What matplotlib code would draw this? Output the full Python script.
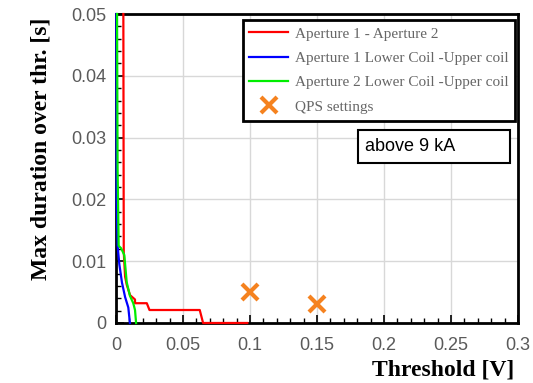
import numpy as np
import matplotlib.pyplot as plt
from matplotlib.patches import Rectangle
from matplotlib.ticker import MultipleLocator, FuncFormatter

# red: Aperture 1 - Aperture 2
red_x = [0.0055, 0.0058, 0.0068, 0.008, 0.0105, 0.0142, 0.0142, 0.023, 0.025, 0.0625, 0.065, 0.098]
red_y = [0.050, 0.0115, 0.0075, 0.0062, 0.0045, 0.0038, 0.0032, 0.0032, 0.0021, 0.0021, 0.0, 0.0]
# blue: Aperture 1 Lower Coil - Upper coil
blue_x = [0.0003, 0.0005, 0.0012, 0.0025, 0.0045, 0.0068, 0.0092, 0.0104]
blue_y = [0.050, 0.020, 0.0125, 0.0095, 0.0065, 0.0042, 0.0025, 0.0]
# green: Aperture 2 Lower Coil - Upper coil
green_x = [0.0008, 0.0012, 0.002, 0.0038, 0.0062, 0.008, 0.0104, 0.0129, 0.0142, 0.015]
green_y = [0.050, 0.025, 0.0125, 0.0121, 0.0110, 0.0066, 0.0044, 0.0032, 0.0021, 0.0]
# QPS settings
qps_x = [0.10, 0.15]
qps_y = [0.005, 0.003]

fig = plt.figure(figsize=(5.33, 3.83), dpi=100)
ax = fig.add_axes([0.2176, 0.1567, 0.9719 - 0.2176, 0.9634 - 0.1567])

ax.plot(red_x, red_y, color='#ff0000', lw=1.6, label='Aperture 1 - Aperture 2', zorder=6, clip_on=False)
ax.plot(blue_x, blue_y, color='#0000ff', lw=1.6, label='Aperture 1 Lower Coil -Upper coil', zorder=6, clip_on=False)
ax.plot(green_x, green_y, color='#00ee00', lw=1.6, label='Aperture 2 Lower Coil -Upper coil', zorder=6, clip_on=False)
ax.plot(qps_x, qps_y, ls='none', marker='x', ms=12, mew=3, color='#f5821f', label='QPS settings', zorder=6)

ax.set_xlim(0, 0.3)
ax.set_ylim(0, 0.05)
ax.xaxis.set_major_locator(MultipleLocator(0.05))
ax.xaxis.set_minor_locator(MultipleLocator(0.01))
ax.yaxis.set_major_locator(MultipleLocator(0.01))
ax.yaxis.set_minor_locator(MultipleLocator(0.002))
fmt = FuncFormatter(lambda v, p: '%g' % round(v, 4))
ax.xaxis.set_major_formatter(fmt)
ax.yaxis.set_major_formatter(fmt)
ax.grid(True, which='major', color='#d8d8d8', lw=1, zorder=0)
ax.tick_params(which='both', direction='in', top=False, right=False, colors='black',
               labelcolor='#5a5a5a', labelsize=13, pad=7)
ax.tick_params(axis='x', pad=10)
ax.tick_params(which='major', length=6, width=1.2)
ax.tick_params(which='minor', length=3.5, width=1)
for lab in ax.get_xticklabels() + ax.get_yticklabels():
    lab.set_family('Liberation Sans')
for s in ax.spines.values():
    s.set_linewidth(2)
    s.set_zorder(5)

ax.set_xlabel('Threshold [V]', family='Liberation Serif', fontweight='bold', fontsize=17)
ax.xaxis.set_label_coords(0.99, -0.118)
ax.xaxis.label.set_ha('right')
ax.set_ylabel('Max duration over thr. [s]', family='Liberation Serif', fontweight='bold', fontsize=17)
ax.yaxis.set_label_coords(-0.16, 0.563)

leg = ax.legend(loc='upper right', bbox_to_anchor=(0.9925, 0.9806), borderaxespad=0,
                prop={'family': 'Liberation Serif', 'size': 11}, fancybox=False,
                framealpha=1, edgecolor='black', handlelength=2.5, handletextpad=0.45,
                labelspacing=0.7, borderpad=0.45)
leg.set_zorder(10)
leg.get_frame().set_linewidth(2)
for t in leg.get_texts():
    t.set_color('#666666')

ax.add_patch(Rectangle((0.602, 0.518), 0.378, 0.107, transform=ax.transAxes,
                       facecolor='white', edgecolor='black', lw=1.5, zorder=7))
ax.text(0.619, 0.571, 'above 9 kA', transform=ax.transAxes, va='center', ha='left',
        family='Liberation Sans', fontsize=13, zorder=8)

fig.savefig('out.png', dpi=100)
